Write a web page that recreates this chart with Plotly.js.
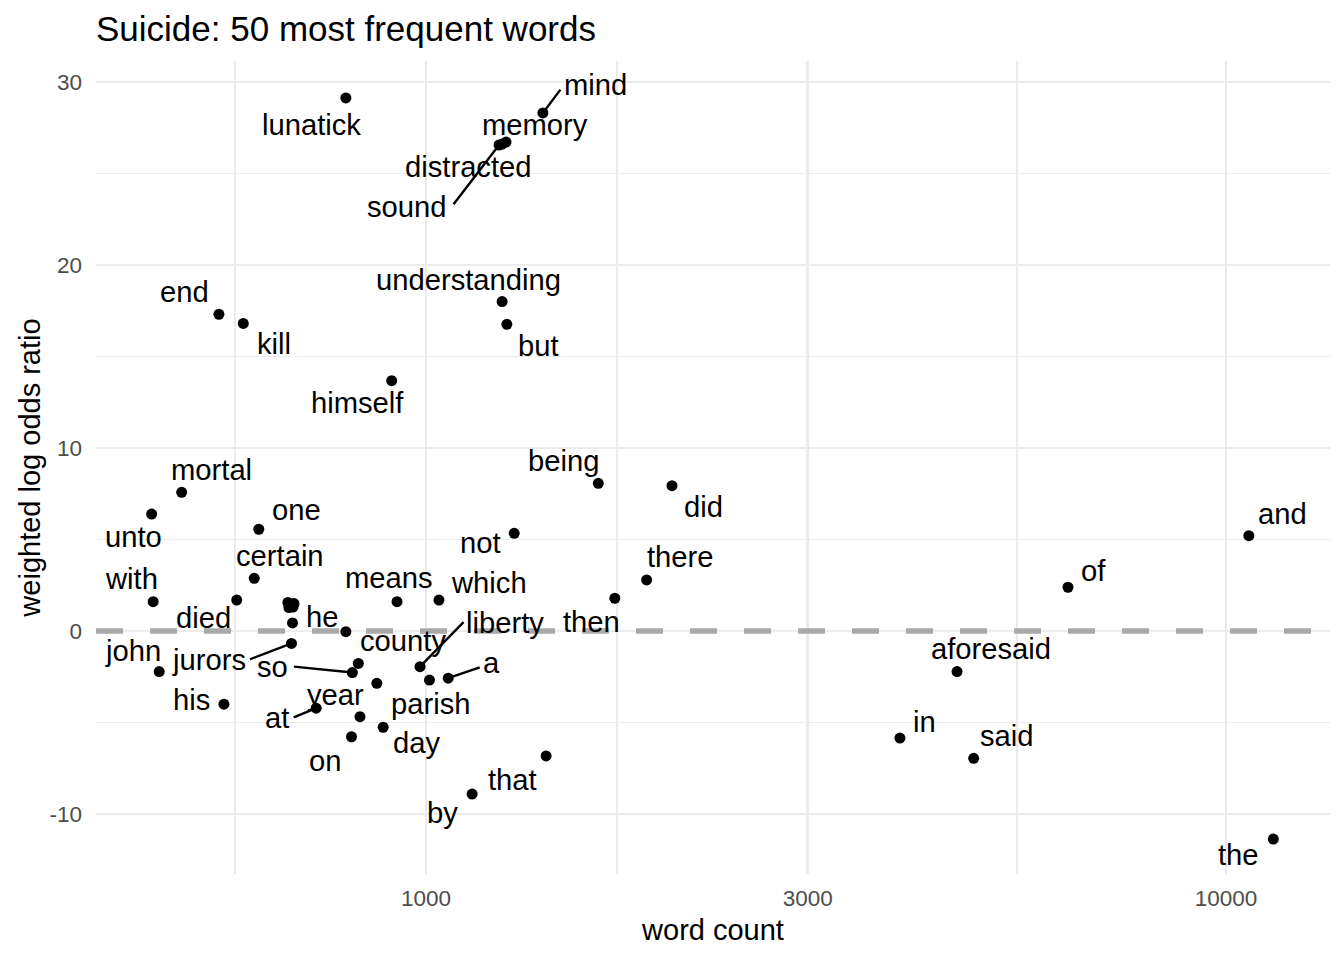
<!DOCTYPE html>
<html>
<head>
<meta charset="utf-8">
<script src="https://cdn.plot.ly/plotly-3.0.1.min.js"></script>
<style>
  html, body { margin: 0; padding: 0; background: #fff; }
  #chart { width: 1344px; height: 960px; }
</style>
</head>
<body>
<div id="chart"></div>
<script>
// words (empty label = point that ggrepel left unlabelled)
var words = [
  "lunatick", "mind", "memory", "distracted", "sound", "understanding", "but",
  "end", "kill", "himself", "being", "did", "mortal", "unto", "one", "not",
  "certain", "there", "with", "died", "means", "which", "then", "of", "and",
  "he", "county", "liberty", "a", "jurors", "so", "john", "his", "year", "at",
  "parish", "on", "day", "that", "by", "aforesaid", "in", "said", "the",
  "", "", "", "", "", ""
];
var wordCount = [
  794, 1400, 1259, 1245, 1234, 1245, 1262,
  551, 591, 906, 1642, 2030, 495, 454, 618, 1289,
  610, 1887, 456, 580, 920, 1038, 1722, 6345, 10680,
  681, 794, 983, 1066, 679, 809, 464, 559, 868, 729,
  884, 807, 827, 1413, 1142, 4611, 3912, 4837, 11459,
  823, 1010, 672, 684, 674, 682
];
var logOdds = [
  29.13, 28.31, 26.72, 26.61, 26.56, 18.0, 16.76,
  17.31, 16.81, 13.68, 8.07, 7.94, 7.58, 6.39, 5.56, 5.34,
  2.88, 2.79, 1.60, 1.69, 1.60, 1.69, 1.79, 2.39, 5.21,
  0.44, -0.04, -1.95, -2.58, -0.68, -2.27, -2.22, -4.0, -2.86, -4.22,
  -5.26, -5.78, -4.68, -6.83, -8.91, -2.22, -5.85, -6.96, -11.37,
  -1.77, -2.68, 1.56, 1.50, 1.28, 1.31
];

// label centre relative to its point (screen px, down is positive)
var labelDx = [
  -34, 53, 29, -34, -92, -34, 32,
  -34.5, 30.4, -34, -35, 31, 30, -18, 38, -34,
  26, 34, -22, -33, -8, 50, -23, 26, 34,
  29.5, 57, 85, 43, -83, -79.5, -26.5, -32, -41.7, -39,
  47.5, -27, 56, -34, -30, 34, 24.5, 33, -35,
  0, 0, 0, 0, 0, 0
];
var labelDy = [
  27, -28, -17, 23, 62, -21.7, 22,
  -22, 20.7, 22, -22, 21, -22, 23, -19, 10,
  -22, -23, -23, 18, -24, -17, 24, -16, -22,
  -6, 9.5, -44, -15, 17, -6, -20.5, -4, 11.7, 10,
  -23.3, 24, 26.3, 24, 19, -22.7, -16, -22, 16,
  0, 0, 0, 0, 0, 0
];
// where the repel segment leaves the label (px from the point), null = no segment
var segDx = [
  null, 18, null, null, -46, null, null,
  null, null, null, null, null, null, null, null, null,
  null, null, null, null, null, null, null, null, null,
  null, null, 44, 32, -42, -59, null, null, null, -23,
  null, null, null, null, null, null, null, null, null,
  null, null, null, null, null, null
];
var segDy = [
  null, -24, null, null, 60, null, null,
  null, null, null, null, null, null, null, null, null,
  null, null, null, null, null, null, null, null, null,
  null, null, -45, -11, 16, -6, null, null, null, 9.4,
  null, null, null, null, null, null, null, null, null,
  null, null, null, null, null, null
];

var xTicks = [1000, 3000, 10000];
var xMinor = [577, 1732, 5477];
var yTicks = [-10, 0, 10, 20, 30];
var yMinor = [-5, 5, 15, 25];

var FONT = "Liberation Sans, Arial, Helvetica, sans-serif";
var GRID = "#EBEBEB";
var labelSize = 29.2;

var annotations = [];
for (var i = 0; i < words.length; i++) {
  if (!words[i]) continue;
  var px = Math.log10(wordCount[i]);
  // segment first so the text sits on top of it
  if (segDx[i] !== null) {
    annotations.push({
      x: px, y: logOdds[i], xref: "x", yref: "y",
      text: " ",
      font: {size: 1},
      borderpad: 0,
      showarrow: true,
      arrowhead: 0,
      arrowwidth: 2.4,
      arrowcolor: "#000",
      standoff: 0,
      ax: segDx[i],
      ay: segDy[i]
    });
  }
  annotations.push({
    x: px,
    y: logOdds[i],
    xref: "x",
    yref: "y",
    text: words[i],
    font: {family: FONT, size: labelSize, color: "#000"},
    borderpad: 0,
    showarrow: false,
    xanchor: "center",
    yanchor: "middle",
    xshift: labelDx[i],
    yshift: -labelDy[i]
  });
}

var trace = {
  x: wordCount,
  y: logOdds,
  mode: "markers",
  type: "scatter",
  marker: {color: "#000", size: 11},
  hoverinfo: "text",
  text: words,
  cliponaxis: false
};

var layout = {
  width: 1344,
  height: 960,
  margin: {l: 96, r: 14, t: 61, b: 86},
  paper_bgcolor: "#fff",
  plot_bgcolor: "#fff",
  font: {family: FONT, color: "#000"},
  showlegend: false,
  title: {
    text: "Suicide: 50 most frequent words",
    font: {family: FONT, size: 35, color: "#000"},
    x: 0, xref: "paper", xanchor: "left",
    y: 1 - 29 / 960, yref: "container", yanchor: "middle"
  },
  xaxis: {
    type: "log",
    range: [2.5875, 4.13],
    tickvals: xTicks,
    ticktext: xTicks.map(String),
    ticks: "",
    ticklabelstandoff: 8,
    tickfont: {family: FONT, size: 22.5, color: "#4D4D4D"},
    showgrid: true,
    gridcolor: GRID,
    gridwidth: 2.7,
    minor: {tickvals: xMinor, showgrid: true, gridcolor: GRID, gridwidth: 1.4},
    zeroline: false,
    showline: false,
    title: {text: "word count", font: {family: FONT, size: 29, color: "#000"}, standoff: 10}
  },
  yaxis: {
    range: [-13.28, 31.15],
    tickvals: yTicks,
    ticktext: yTicks.map(String),
    ticks: "",
    ticklabelstandoff: 13,
    tickfont: {family: FONT, size: 22.5, color: "#4D4D4D"},
    showgrid: true,
    gridcolor: GRID,
    gridwidth: 2.7,
    minor: {tickvals: yMinor, showgrid: true, gridcolor: GRID, gridwidth: 1.4},
    zeroline: false,
    showline: false,
    title: {text: "weighted log odds ratio", font: {family: FONT, size: 29, color: "#000"}, standoff: 0}
  },
  shapes: [{
    type: "line",
    layer: "above",
    xref: "paper", x0: 0, x1: 1,
    yref: "y", y0: 0, y1: 0,
    line: {color: "#A9A9A9", width: 5.5, dash: "27px,27px"}
  }],
  annotations: annotations
};

Plotly.newPlot("chart", [trace], layout, {displayModeBar: false, staticPlot: true});
</script>
</body>
</html>
